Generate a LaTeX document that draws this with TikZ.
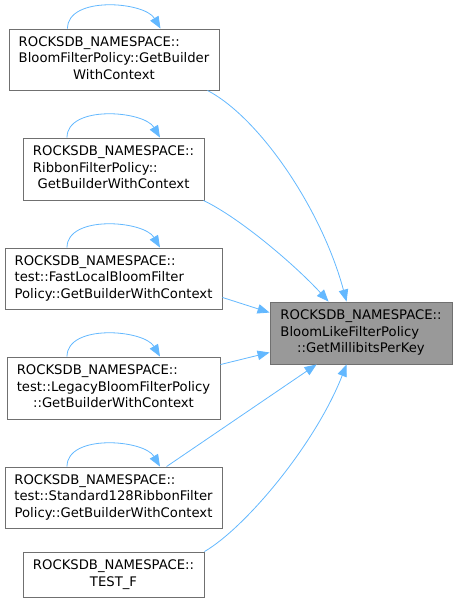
\documentclass[tikz,border=0pt]{standalone}
\usepackage{fontspec}
\setmainfont{DejaVu Sans}
\usetikzlibrary{arrows.meta,calc}
\definecolor{edgeblue}{HTML}{63B8FF}
\definecolor{nodeborder}{HTML}{707070}
\definecolor{targetfill}{HTML}{999999}
\newcommand{\lns}[1]{\begin{tabular}{@{}l@{}}#1\end{tabular}}
\newcommand{\cln}[1]{\multicolumn{1}{@{}c@{}}{#1}}
\begin{document}
\begin{tikzpicture}[x=1pt,y=-1pt,
  box/.style={draw=nodeborder, line width=0.9pt, fill=white, inner sep=0pt,
    font=\fontsize{13.2}{16.5}\selectfont},
  target/.style={box, fill=targetfill},
  edge/.style={draw=edgeblue, line width=0.8pt, -{Triangle[length=12pt,width=9.5pt]}}]
\useasboundingbox (0,0) rectangle (457,603);
\node[box, minimum width=210pt, minimum height=61pt] (b1) at (114,59.5)
  {\lns{ROCKSDB\_NAMESPACE::\\BloomFilterPolicy::GetBuilder\\\cln{WithContext}}};
\node[box, minimum width=181pt, minimum height=62pt] (b2) at (113.5,169)
  {\lns{ROCKSDB\_NAMESPACE::\\RibbonFilterPolicy::\\\cln{GetBuilderWithContext}}};
\node[box, minimum width=217pt, minimum height=61pt] (b3) at (113.5,278.5)
  {\lns{ROCKSDB\_NAMESPACE::\\test::FastLocalBloomFilter\\\cln{Policy::GetBuilderWithContext}}};
\node[box, minimum width=213pt, minimum height=62pt] (b4) at (113.5,388)
  {\lns{ROCKSDB\_NAMESPACE::\\test::LegacyBloomFilterPolicy\\\cln{::GetBuilderWithContext}}};
\node[box, minimum width=217pt, minimum height=61pt] (b5) at (113.5,497.5)
  {\lns{ROCKSDB\_NAMESPACE::\\test::Standard128RibbonFilter\\\cln{Policy::GetBuilderWithContext}}};
\node[box, minimum width=181pt, minimum height=45pt] (b6) at (113.5,574.5)
  {\lns{ROCKSDB\_NAMESPACE::\\\cln{TEST\_F}}};
\node[target, minimum width=182pt, minimum height=62pt] (t) at (361,333)
  {\lns{ROCKSDB\_NAMESPACE::\\BloomLikeFilterPolicy\\\cln{::GetMillibitsPerKey}}};
% self loops
\foreach \n in {b1,b2,b3,b4,b5}{
  \draw[edge] ([xshift=-46.5pt]\n.north) .. controls +(0,-33) and +(-16,-27) .. ([xshift=46.5pt]\n.north);
}
% edges to target
\draw[edge] ([xshift=-12pt]b1.south east) .. controls (260,118) and (322,210) .. ($(t.north west)+(77,0)$);
\draw[edge] ([xshift=-1pt]b2.south east) .. controls (240,218) and (295,265) .. ($(t.north west)+(59,0)$);
\draw[edge] ($(b3.south east)+(0,-12)$) -- ($(t.north west)+(0,11)$);
\draw[edge] ($(b4.north east)+(0,8)$) -- ($(t.south west)+(0,-12)$);
\draw[edge] ($(b5.north west)+(162,0)$) -- ($(t.south west)+(47,0)$);
\draw[edge] (b6.north east) .. controls (245,528) and (315,445) .. ($(t.south west)+(77,0)$);
\end{tikzpicture}
\end{document}
